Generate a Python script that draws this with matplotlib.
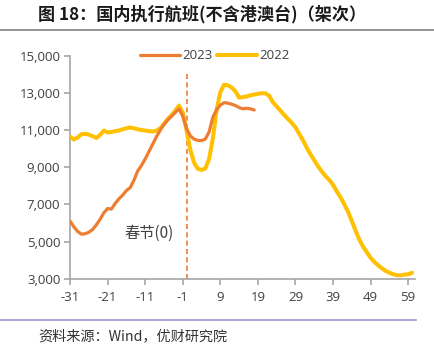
import matplotlib
matplotlib.use("Agg")
import matplotlib.pyplot as plt
from matplotlib.ticker import FuncFormatter

plt.rcParams['font.family'] = ['Open Sans', 'Noto Sans CJK SC', 'DejaVu Sans']
plt.rcParams['axes.unicode_minus'] = False

# ---- data ----
days_2023 = list(range(-31, 19))
flights_2023 = [
    6100, 5800, 5550, 5400, 5420, 5500, 5650, 5900, 6200, 6550,
    6780, 6750, 7050, 7300, 7500, 7750, 7900, 8300, 8800, 9100,
    9450, 9850, 10250, 10650, 11000, 11300, 11550, 11750, 11950, 12150,
    11750, 11100, 10700, 10520, 10450, 10440, 10520, 10900, 11700, 12100,
    12350, 12480, 12460, 12400, 12330, 12220, 12150, 12180, 12150, 12090,
]

days_2022 = list(range(-31, 61))
flights_2022 = [
    10650, 10500, 10600, 10780, 10800, 10760, 10680, 10580, 10750, 10980,
    10880, 10900, 10950, 10980, 11050, 11100, 11150, 11100, 11050, 11010,
    10980, 10950, 10930, 10970, 11100, 11350, 11600, 11800, 12050, 12330,
    11950, 11000, 9950, 9250, 8920, 8860, 8940, 9450, 10550, 12100,
    13050, 13450, 13420, 13300, 13100, 12750, 12780, 12820, 12880, 12920,
    12960, 12990, 12990, 12850, 12500, 12280, 12050, 11820, 11600, 11400,
    11150, 10800, 10450, 10050, 9700, 9380, 9050, 8780, 8520, 8320,
    8050, 7700, 7380, 7000, 6600, 6100, 5580, 5100, 4720, 4420,
    4120, 3900, 3720, 3560, 3420, 3320, 3240, 3190, 3180, 3220,
    3240, 3320,
]

x_ticks = [-31, -21, -11, -1, 9, 19, 29, 39, 49, 59]
y_ticks = [3000, 5000, 7000, 9000, 11000, 13000, 15000]
festival_day = 0
festival_label = "春节(0)"
title = "图 18：国内执行航班(不含港澳台)（架次）"
source = "资料来源：Wind，优财研究院"

c2023 = "#ED7D31"
c2022 = "#FFC000"
axis_gray = "#A6A6A6"
text_gray = "#404040"

fig = plt.figure(figsize=(4.35, 3.53), dpi=100)
ax = fig.add_axes([0.161, 0.2105, 0.793, 0.631])

ax.plot(days_2023, flights_2023, color=c2023, lw=2.3, label="2023", zorder=4,
        solid_capstyle='round', solid_joinstyle='round')
ax.plot(days_2022, flights_2022, color=c2022, lw=2.9, label="2022", zorder=3,
        solid_capstyle='round', solid_joinstyle='round')
ax.plot([festival_day, festival_day], [3000, 14150], color=c2023, lw=1.2,
        ls=(0, (3, 2)), zorder=2)

ax.text(-10, 5435, festival_label, ha='center', va='center', fontsize=11,
        color=text_gray, family=['Noto Sans CJK SC', 'DejaVu Sans'])

ax.set_xlim(-31, 60.8)
ax.set_ylim(3000, 15000)
ax.set_xticks(x_ticks)
ax.set_yticks(y_ticks)
ax.xaxis.set_major_formatter(FuncFormatter(lambda v, p: f"{int(round(v))}"))
ax.yaxis.set_major_formatter(FuncFormatter(lambda v, p: f"{int(v):,}"))

for s in ['top', 'right']:
    ax.spines[s].set_visible(False)
for s in ['left', 'bottom']:
    ax.spines[s].set_color(axis_gray)
    ax.spines[s].set_linewidth(1.2)
ax.tick_params(axis='both', colors=axis_gray, length=4, width=1.2,
               labelcolor=text_gray, labelsize=9.5)
ax.tick_params(axis='y', pad=3)
ax.tick_params(axis='x', pad=5)

leg = ax.legend(loc='center', bbox_to_anchor=(0.42, 1.0), ncol=2, frameon=False,
                fontsize=9.5, handlelength=3.0, handletextpad=0.2,
                columnspacing=0.35, borderaxespad=0)
for t in leg.get_texts():
    t.set_color(text_gray)

fig.text(38 / 435, 1 - 14 / 353, title, ha='left', va='center', fontsize=12.3,
         fontweight='bold', color='#1a1a1a', family=['Noto Sans CJK SC', 'DejaVu Sans'])
fig.add_artist(plt.Line2D([0, 1], [1 - 30 / 353, 1 - 30 / 353], color='#8c8c8c',
                          lw=1.3, transform=fig.transFigure))
fig.add_artist(plt.Line2D([0, 416 / 435], [1 - 320 / 353, 1 - 320 / 353],
                          color='#9FA3D3', lw=1.3, transform=fig.transFigure))
fig.text(38 / 435, 1 - 336.5 / 353, source, ha='left', va='center', fontsize=10.2,
         color='#333333', family=['Noto Sans CJK SC', 'DejaVu Sans'])

fig.savefig("out.png", dpi=100)
